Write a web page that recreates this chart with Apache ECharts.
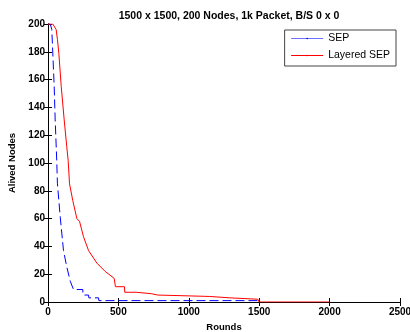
<!DOCTYPE html>
<html><head><meta charset="utf-8">
<script src="https://cdn.jsdelivr.net/npm/echarts@6/dist/echarts.min.js"></script>
<style>html,body{margin:0;padding:0;background:#fff}#c{width:410px;height:332px}</style>
</head><body><div id="c"></div>
<script>
var titleText = "1500 x 1500, 200 Nodes, 1k Packet, B/S 0 x 0";
var xName = "Rounds";
var yName = "Alived Nodes";
var seriesNames = ["SEP", "Layered SEP"];
var sepRounds = [0, 16, 27, 34, 44, 51, 62, 67, 87, 110, 134, 158, 181, 247, 249, 288, 290, 359, 361, 1500, 1505];
var sepAlive  = [200, 200, 196, 179, 155, 131, 102, 85, 61, 37, 25, 15, 9, 9, 5, 5, 3, 3, 1, 1, 0];
var lsepRounds = [0, 34, 58, 67, 77, 94, 115, 133, 143, 153, 176, 205, 224, 252, 288, 347, 406, 470, 479, 543, 545, 626, 628, 733, 735, 780, 782, 1147, 1149, 1289, 1291, 1490, 1500, 2000];
var lsepAlive  = [200, 200, 196, 189, 179, 155, 131, 112, 102, 85, 73, 60, 58, 47, 37, 28, 22, 17, 11, 11, 7, 7, 6, 6, 5, 5, 4, 4, 3, 3, 2, 2, 0, 0];

function zip(a, b) { return a.map(function (v, i) { return [v, b[i]]; }); }

var font = "Liberation Sans, Arial, sans-serif";
var nameStyle = {fontSize: 9.5, fontWeight: 'bold', color: '#000', fontFamily: font};
var tickStyle = {fontSize: 10, fontWeight: 'bold', color: '#000', fontFamily: font};
var chart = echarts.init(document.getElementById('c'));
chart.setOption({
  backgroundColor: '#fff',
  animation: false,
  title: {
    text: titleText, left: 224, textAlign: 'center', top: 6,
    textStyle: {fontSize: 10.5, fontWeight: 'bold', color: '#000', fontFamily: font}
  },
  legend: {
    orient: 'vertical', right: 14, top: 30,
    backgroundColor: '#fff', borderColor: '#444', borderWidth: 1, borderRadius: 0,
    padding: [3, 6, 5, 6], itemGap: 6, itemWidth: 32, itemHeight: 2,
    textStyle: {fontSize: 10.5, color: '#000', fontFamily: font},
    data: [
      {name: seriesNames[0], lineStyle: {type: 'solid', color: '#7070ff', width: 1}},
      {name: seriesNames[1], lineStyle: {color: '#ff0000', width: 1}}
    ]
  },
  grid: {left: 48, right: 10, top: 24, bottom: 30, containLabel: false, outerBoundsMode: 'none'},
  xAxis: [{
    type: 'value', min: 0, max: 2500, interval: 500,
    name: xName, nameLocation: 'middle', nameGap: 14,
    nameTextStyle: nameStyle,
    axisLine: {lineStyle: {color: '#000', width: 1}},
    axisTick: {inside: true, length: 4, lineStyle: {color: '#000'}},
    axisLabel: Object.assign({margin: 5, formatter: function (v) { return String(v); }}, tickStyle),
    splitLine: {show: false}
  }, {
    type: 'value', min: 0, max: 2500, interval: 500, position: 'top',
    axisLine: {lineStyle: {color: '#000', width: 1}},
    axisTick: {inside: true, length: 4, lineStyle: {color: '#000'}},
    axisLabel: {show: false}, splitLine: {show: false}
  }],
  yAxis: [{
    type: 'value', min: 0, max: 200, interval: 20,
    name: yName, nameLocation: 'middle', nameGap: 24, nameRotate: 90,
    nameTextStyle: nameStyle,
    axisLine: {show: true, lineStyle: {color: '#000', width: 1}},
    axisTick: {show: true, inside: true, length: 4, lineStyle: {color: '#000'}},
    axisLabel: Object.assign({margin: 3}, tickStyle),
    splitLine: {show: false}
  }, {
    type: 'value', min: 0, max: 200, interval: 20, position: 'right',
    axisLine: {show: true, lineStyle: {color: '#000', width: 1}},
    axisTick: {show: true, inside: true, length: 4, lineStyle: {color: '#000'}},
    axisLabel: {show: false}, splitLine: {show: false}
  }],
  series: [{
    name: seriesNames[0], type: 'line', data: zip(sepRounds, sepAlive),
    symbol: 'circle', symbolSize: 3, showSymbol: false,
    lineStyle: {color: '#0000ff', width: 1, type: [9, 4]},
    itemStyle: {color: '#0000ff'}
  }, {
    name: seriesNames[1], type: 'line', data: zip(lsepRounds, lsepAlive),
    symbol: 'none',
    lineStyle: {color: '#ff0000', width: 1},
    itemStyle: {color: '#ff0000'}
  }]
});
</script></body></html>
